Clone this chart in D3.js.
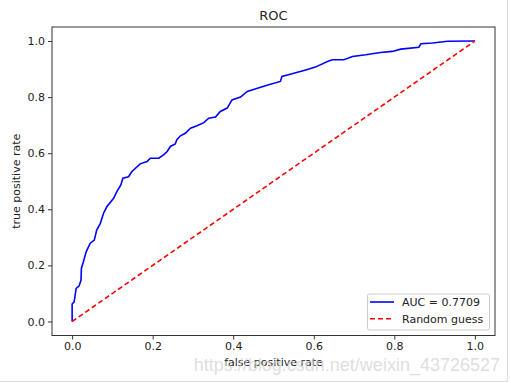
<!DOCTYPE html>
<html><head><meta charset="utf-8">
<script src="https://cdn.jsdelivr.net/npm/d3@7"></script>
<style>body{margin:0;background:#fff}svg{display:block}text{font-family:"DejaVu Sans",sans-serif}</style>
</head><body>
<script>
const fpr = [0,0,0.005,0.01,0.017,0.022,0.023,0.028,0.035,0.045,0.055,0.061,0.07,0.078,0.086,0.103,0.111,0.121,0.126,0.14,0.148,0.169,0.186,0.194,0.215,0.227,0.236,0.244,0.256,0.26,0.269,0.281,0.294,0.31,0.327,0.339,0.356,0.368,0.385,0.397,0.418,0.435,0.456,0.488,0.517,0.521,0.546,0.58,0.604,0.634,0.646,0.675,0.696,0.729,0.766,0.795,0.816,0.861,0.866,0.895,0.932,1.0];
const tpr = [0,0.062,0.07,0.118,0.126,0.147,0.189,0.213,0.249,0.279,0.29,0.326,0.35,0.386,0.409,0.439,0.463,0.487,0.511,0.516,0.534,0.562,0.57,0.582,0.582,0.594,0.606,0.624,0.633,0.648,0.662,0.671,0.689,0.698,0.709,0.725,0.729,0.749,0.761,0.79,0.8,0.82,0.83,0.844,0.856,0.874,0.883,0.897,0.907,0.927,0.933,0.933,0.945,0.951,0.959,0.963,0.971,0.978,0.99,0.993,0.999,1.0];
const guessX = [0,1];
const guessY = [0,1];
const xTicks = [0,0.2,0.4,0.6,0.8,1.0];
const yTicks = [0,0.2,0.4,0.6,0.8,1.0];
const legendLabels = ["AUC = 0.7709","Random guess"];

const W=511,H=383;
const L=52,R=495,T=27,B=335.5;
const svg=d3.select("body").append("svg").attr("width",W).attr("height",H);
svg.append("rect").attr("width",W).attr("height",H).attr("fill","#fff");
const x=d3.scaleLinear().domain([-0.05,1.05]).range([L,R]);
const y=d3.scaleLinear().domain([-0.05,1.05]).range([B,T]);

const line=d3.line().x((d)=>x(d[0])).y((d)=>y(d[1]));
svg.append("path").datum(fpr.map((f,i)=>[f,tpr[i]])).attr("d",line)
  .attr("fill","none").attr("stroke","#0000ff").attr("stroke-width",1.6);
svg.append("path").datum(guessX.map((f,i)=>[f,guessY[i]])).attr("d",line)
  .attr("fill","none").attr("stroke","#ff0000").attr("stroke-width",1.6).attr("stroke-dasharray","5,3");

const xa=svg.append("g").attr("transform",`translate(0,${B})`)
  .call(d3.axisBottom(x).tickValues(xTicks).tickFormat(d3.format(".1f")).tickSize(4).tickPadding(3));
const ya=svg.append("g").attr("transform",`translate(${L},0)`)
  .call(d3.axisLeft(y).tickValues(yTicks).tickFormat(d3.format(".1f")).tickSize(4).tickPadding(3));
[xa,ya].forEach(g=>{g.select(".domain").remove();g.selectAll("text").attr("font-size",11).attr("fill","#222").style("font-family","DejaVu Sans");g.selectAll("line").attr("stroke","#333");});
svg.append("rect").attr("x",L).attr("y",T).attr("width",R-L).attr("height",B-T)
  .attr("fill","none").attr("stroke","#333").attr("stroke-width",1);

svg.append("text").attr("x",(L+R)/2).attr("y",20).attr("text-anchor","middle").attr("font-size",13).attr("fill","#222").text("ROC");
svg.append("text").attr("x",(L+R)/2).attr("y",366).attr("text-anchor","middle").attr("font-size",11).attr("fill","#222").text("false positive rate");
svg.append("text").attr("transform",`translate(20,${(T+B)/2}) rotate(-90)`).attr("text-anchor","middle").attr("font-size",11).attr("fill","#222").text("true positive rate");

// legend
const lg=svg.append("g");
lg.append("rect").attr("x",367.5).attr("y",294).attr("width",122).attr("height",36).attr("rx",2)
  .attr("fill","#fff").attr("fill-opacity",0.8).attr("stroke","#ccc").attr("stroke-width",1);
const styles=[{c:"#0000ff",d:null},{c:"#ff0000",d:"5,3"}];
legendLabels.forEach((t,i)=>{
  const yy=302+i*16.8;
  lg.append("line").attr("x1",370).attr("x2",394).attr("y1",yy).attr("y2",yy)
    .attr("stroke",styles[i].c).attr("stroke-width",1.6).attr("stroke-dasharray",styles[i].d);
  lg.append("text").attr("x",402).attr("y",yy).attr("dy","0.35em").attr("font-size",11).attr("fill","#222").text(t);
});

// watermark
svg.append("text").attr("x",500).attr("y",371).attr("text-anchor","end").attr("font-size",18)
  .style("font-family","Liberation Sans, Arial, sans-serif").attr("fill","#d6d6d6").attr("fill-opacity",0.8)
  .text("https://blog.csdn.net/weixin_43726527");
// outer frame edges
svg.append("line").attr("x1",507.5).attr("x2",507.5).attr("y1",0).attr("y2",382).attr("stroke","#ddd");
svg.append("line").attr("x1",0).attr("x2",508).attr("y1",381.5).attr("y2",381.5).attr("stroke","#ddd");
</script>
</body></html>
